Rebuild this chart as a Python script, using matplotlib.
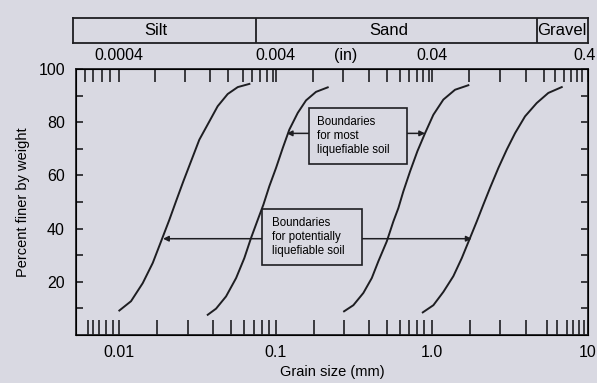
import numpy as np
import matplotlib
matplotlib.use("Agg")
from matplotlib import pyplot as plt
from matplotlib.patches import Rectangle
from matplotlib.transforms import blended_transform_factory, ScaledTranslation

plt.rcParams['font.family'] = ['Liberation Sans', 'DejaVu Sans']

# grain size curves (mm, percent finer)
c1_mm = [0.0100, 0.01188, 0.01412, 0.01637, 0.0185, 0.0209, 0.02307, 0.0257, 0.02877, 0.0325, 0.0377, 0.0426, 0.0494, 0.0573, 0.0680]
c1_pct = [9.2, 12.7, 19.5, 27.1, 35.2, 43.3, 50.3, 57.8, 65.3, 73.4, 80.3, 86.0, 90.6, 93.2, 94.4]
c2_mm = [0.0368, 0.0416, 0.0482, 0.0559, 0.0631, 0.0697, 0.0769, 0.0836, 0.0912, 0.1007, 0.1112, 0.1225, 0.1387, 0.1567, 0.1815, 0.2158]
c2_pct = [7.6, 9.9, 14.5, 21.4, 28.9, 36.5, 43.3, 49.0, 55.9, 62.8, 70.3, 77.2, 83.5, 88.2, 91.4, 93.1]
c3_mm = [0.2745, 0.3148, 0.3648, 0.413, 0.455, 0.5152, 0.5677, 0.611, 0.6577, 0.7261, 0.8091, 0.906, 1.0237, 1.186, 1.409, 1.714]
c3_pct = [8.9, 11.2, 15.8, 21.4, 27.7, 35.2, 42.7, 47.7, 54.0, 61.5, 69.1, 75.9, 82.8, 88.5, 92.2, 93.9]
c4_mm = [0.8759, 1.0237, 1.186, 1.374, 1.556, 1.758, 1.941, 2.138, 2.36, 2.669, 3.02, 3.414, 3.954, 4.695, 5.572, 6.792]
c4_pct = [8.5, 11.2, 16.2, 22.1, 28.9, 36.5, 42.7, 49.0, 55.3, 62.8, 69.7, 75.9, 82.2, 87.2, 91.0, 93.2]

# axis ticks (mm) as drawn in the original
decades_mm = [0.01, 0.1, 1.0, 10]
bottom_labels = ['0.01', '0.1', '1.0', '10']
top_labels = ['0.0004', '0.004', '0.04', '0.4']
bottom_minor = [0.00633, 0.00682, 0.00741, 0.00818, 0.00907, 0.01735, 0.0274, 0.0396, 0.0519, 0.0631,
                0.0732, 0.0823, 0.0908, 0.1764, 0.2758, 0.398, 0.515, 0.627, 0.719, 0.802, 0.893,
                1.76, 2.74, 4.02, 5.45, 6.37, 7.31, 8.07, 8.81, 9.48]
top_minor = [0.00603, 0.00682, 0.00771, 0.00872, 0.01692, 0.02634, 0.0381, 0.0499, 0.0617, 0.0704,
             0.0796, 0.0878, 0.0968, 0.1746, 0.2717, 0.3986, 0.5152, 0.6268, 0.719, 0.8017, 0.8838,
             0.966, 1.733, 2.737, 4.016, 5.26, 6.16, 7.06, 7.76, 8.48, 9.13]

# soil classes
soil_names = ['Silt', 'Sand', 'Gravel']
soil_bounds = [0.00504, 0.075, 4.75, 10]
soil_label_x = [0.0172, 0.53, 6.8]

bg = '#d9d9e2'
ink = '#1e1e22'

fig = plt.figure(figsize=(5.97, 3.83), dpi=100, facecolor=bg)
ax = fig.add_axes([76/597, 48/383, 512/597, 266/383])
ax.set_facecolor(bg)
ax.set_xscale('log')
ax.set_xlim(0.00528, 10)
ax.set_ylim(0, 100)

for xs, ys in [(c1_mm, c1_pct), (c2_mm, c2_pct), (c3_mm, c3_pct), (c4_mm, c4_pct)]:
    ax.plot(xs, ys, color=ink, lw=1.4, zorder=2)

for s in ax.spines.values():
    s.set_linewidth(1.3)
    s.set_color(ink)

ax.set_xticks(decades_mm)
ax.set_xticklabels(bottom_labels)
ax.set_xticks(bottom_minor, minor=True)
ax.xaxis.set_minor_formatter(plt.NullFormatter())
ax.tick_params(axis='x', which='both', direction='in', length=10.5, width=1.2, color=ink,
               labelsize=11.5, pad=7, top=False)
ax.set_yticks([20, 40, 60, 80, 100])
ax.set_yticks([10, 30, 50, 70, 90], minor=True)
ax.tick_params(axis='y', which='both', direction='in', length=5, width=1.2, color=ink,
               labelsize=11.5, pad=8, right=True)
ax.set_xlabel('Grain size (mm)', fontsize=10.5, labelpad=4)
ax.set_ylabel('Percent finer by weight', fontsize=10.5, labelpad=6)

# top axis in inches
top = ax.twiny()
top.set_xscale('log')
top.set_xlim(ax.get_xlim())
top.set_xticks(decades_mm)
top.set_xticklabels(top_labels)
top.set_xticks(top_minor, minor=True)
top.xaxis.set_minor_formatter(plt.NullFormatter())
top.tick_params(axis='x', which='both', direction='in', length=9.5, width=1.2, color=ink,
                labelsize=11.5, pad=4)
# last label sits against the right edge, as in the source
last = top.get_xticklabels()[-1]
last.set_horizontalalignment('right')
last.set_transform(last.get_transform() + ScaledTranslation(8/100, 0, fig.dpi_scale_trans))
trans = blended_transform_factory(ax.transData, ax.transAxes)
ax.text(0.28, 1.052, '(in)', transform=trans, ha='center', va='center', fontsize=11.5)

# soil class band
band = fig.add_axes([72.7/597, (383-42.7)/383, (588-72.7)/597, 24.4/383])
band.set_facecolor(bg)
band.set_xscale('log')
band.set_xlim(soil_bounds[0], soil_bounds[-1])
band.set_ylim(0, 1)
band.set_xticks([])
band.set_yticks([])
band.minorticks_off()
for s in band.spines.values():
    s.set_linewidth(1.3)
    s.set_color(ink)
for b in soil_bounds[1:-1]:
    band.axvline(b, color=ink, lw=1.3)
for name, xc in zip(soil_names, soil_label_x):
    band.text(xc, 0.5, name, ha='center', va='center', fontsize=12)

# annotation boxes with arrows
def callout(x0, x1, y0, y1, tx, text, ay, left_end, right_end):
    ax.add_patch(Rectangle((x0, y0), x1 - x0, y1 - y0, fc=bg, ec=ink, lw=1.2, zorder=4))
    ax.text(tx, (y0 + y1) / 2, text, ha='left', va='center', fontsize=8.3,
            linespacing=1.25, zorder=5)
    props = dict(arrowstyle='-|>', color=ink, lw=1.1, mutation_scale=8, shrinkA=0, shrinkB=0)
    ax.annotate('', xy=(left_end, ay), xytext=(x0, ay), arrowprops=props, zorder=3)
    ax.annotate('', xy=(right_end, ay), xytext=(x1, ay), arrowprops=props, zorder=3)

callout(0.1645, 0.692, 64.3, 85.2, 0.184, 'Boundaries\nfor most\nliquefiable soil', 75.8, 0.118, 0.906)
callout(0.0816, 0.3595, 26.3, 47.3, 0.0946, 'Boundaries\nfor potentially\nliquefiable soil', 36.2, 0.01905, 1.80)

fig.savefig('out.png', dpi=100, facecolor=bg)
